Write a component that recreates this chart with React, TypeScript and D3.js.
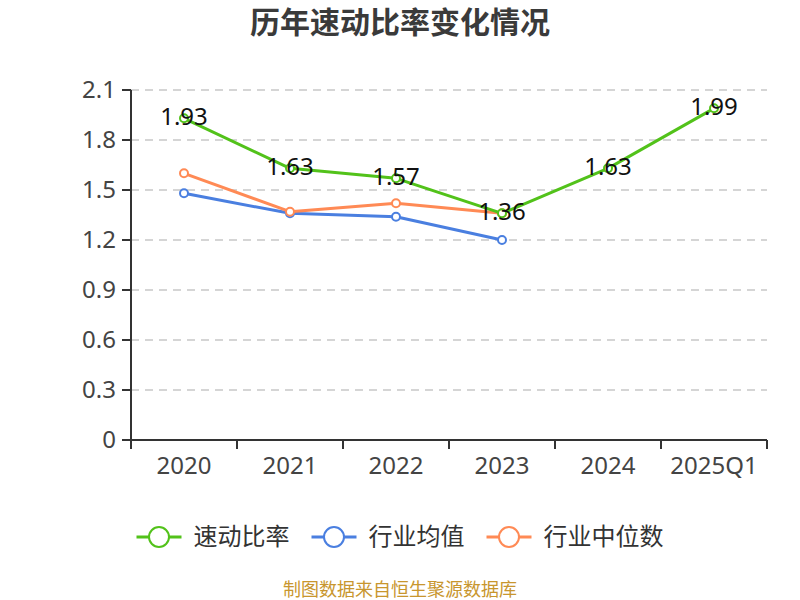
import { select, scaleBand, scaleLinear, line as d3Line } from "d3";
import { useEffect, useRef } from "react";

const categories = ["2020", "2021", "2022", "2023", "2024", "2025Q1"];
const quickRatio = [1.93, 1.63, 1.57, 1.36, 1.63, 1.99];
const industryMean = [1.48, 1.36, 1.34, 1.2, null, null];
const industryMedian = [1.6, 1.37, 1.42, 1.36, null, null];
const yTicks = [0, 0.3, 0.6, 0.9, 1.2, 1.5, 1.8, 2.1];

const seriesNames = ["速动比率", "行业均值", "行业中位数"];
const seriesColors = ["#52c21a", "#4a7fe0", "#ff8a55"];

const FONT = "'Noto Sans', 'Noto Sans CJK SC', sans-serif";

export default function App() {
  const ref = useRef<SVGSVGElement | null>(null);

  useEffect(() => {
    if (!ref.current) return;
    const svg = select(ref.current);
    svg.selectAll("*").remove();

    const left = 131;
    const right = 767;
    const top = 90;
    const bottom = 440;

    const x = scaleBand().domain(categories).range([left, right]).padding(0);
    const y = scaleLinear().domain([0, 2.1]).range([bottom, top]);
    const cx = (c: string) => (x(c) as number) + x.bandwidth() / 2;

    // Title
    svg
      .append("text")
      .attr("x", 400)
      .attr("y", 33)
      .attr("text-anchor", "middle")
      .attr("font-family", FONT)
      .attr("font-size", 30)
      .attr("font-weight", "bold")
      .attr("fill", "#3a3a3a")
      .text("历年速动比率变化情况");

    // Grid lines
    svg
      .append("g")
      .selectAll("line")
      .data(yTicks.filter((t) => t > 0))
      .join("line")
      .attr("x1", left)
      .attr("x2", right)
      .attr("y1", (d) => y(d))
      .attr("y2", (d) => y(d))
      .attr("stroke", "#c8c8c8")
      .attr("stroke-width", 1.5)
      .attr("stroke-dasharray", "8,6");

    // Y axis
    const yAxis = svg.append("g");
    yAxis
      .append("line")
      .attr("x1", left)
      .attr("x2", left)
      .attr("y1", top)
      .attr("y2", bottom)
      .attr("stroke", "#333")
      .attr("stroke-width", 2);
    yAxis
      .selectAll("line.tick")
      .data(yTicks)
      .join("line")
      .attr("class", "tick")
      .attr("x1", left - 9)
      .attr("x2", left)
      .attr("y1", (d) => y(d))
      .attr("y2", (d) => y(d))
      .attr("stroke", "#333")
      .attr("stroke-width", 2);
    yAxis
      .selectAll("text")
      .data(yTicks)
      .join("text")
      .attr("x", left - 15)
      .attr("y", (d) => y(d) + 8)
      .attr("text-anchor", "end")
      .attr("font-family", FONT)
      .attr("font-size", 24)
      .attr("fill", "#444")
      .text((d) => String(d));

    // X axis
    const xAxis = svg.append("g");
    xAxis
      .append("line")
      .attr("x1", left)
      .attr("x2", right)
      .attr("y1", bottom)
      .attr("y2", bottom)
      .attr("stroke", "#333")
      .attr("stroke-width", 2);
    const boundaries = categories.map((c) => x(c) as number).concat([right]);
    xAxis
      .selectAll("line.tick")
      .data(boundaries)
      .join("line")
      .attr("class", "tick")
      .attr("x1", (d) => d)
      .attr("x2", (d) => d)
      .attr("y1", bottom)
      .attr("y2", bottom + 9)
      .attr("stroke", "#333")
      .attr("stroke-width", 2);
    xAxis
      .selectAll("text")
      .data(categories)
      .join("text")
      .attr("x", (d) => cx(d))
      .attr("y", bottom + 34)
      .attr("text-anchor", "middle")
      .attr("font-family", FONT)
      .attr("font-size", 24)
      .attr("fill", "#444")
      .text((d) => d);

    // Lines
    const allSeries = [quickRatio, industryMean, industryMedian];
    const order = [1, 2, 0];
    order.forEach((si) => {
      const vals = allSeries[si];
      const pts = categories
        .map((c, i) => ({ c, v: vals[i] }))
        .filter((p) => p.v != null) as { c: string; v: number }[];
      const line = d3Line<{ c: string; v: number }>()
        .x((p) => cx(p.c))
        .y((p) => y(p.v));
      svg
        .append("path")
        .attr("d", line(pts)!)
        .attr("fill", "none")
        .attr("stroke", seriesColors[si])
        .attr("stroke-width", 3)
        .attr("stroke-linejoin", "round");
      svg
        .append("g")
        .selectAll("circle")
        .data(pts)
        .join("circle")
        .attr("cx", (p) => cx(p.c))
        .attr("cy", (p) => y(p.v))
        .attr("r", 4)
        .attr("fill", "#fff")
        .attr("stroke", seriesColors[si])
        .attr("stroke-width", 2);
    });

    // Data labels for main series
    svg
      .append("g")
      .selectAll("text")
      .data(categories.map((c, i) => ({ c, v: quickRatio[i] })))
      .join("text")
      .attr("x", (p) => cx(p.c))
      .attr("y", (p) => y(p.v) + 7)
      .attr("text-anchor", "middle")
      .attr("font-family", FONT)
      .attr("font-size", 24)
      .attr("fill", "#111")
      .text((p) => p.v.toFixed(2));

    // Legend
    const fontSize = 24;
    const lineW = 45;
    const gapIcon = 12;
    const gapItem = 22;
    const widths = seriesNames.map((n) => lineW + gapIcon + n.length * fontSize);
    const total = widths.reduce((a, b) => a + b, 0) + gapItem * (seriesNames.length - 1);
    let lx = 400 - total / 2;
    const ly = 537;
    seriesNames.forEach((name, i) => {
      const g = svg.append("g");
      g.append("line")
        .attr("x1", lx)
        .attr("x2", lx + lineW)
        .attr("y1", ly)
        .attr("y2", ly)
        .attr("stroke", seriesColors[i])
        .attr("stroke-width", 3);
      g.append("circle")
        .attr("cx", lx + lineW / 2)
        .attr("cy", ly)
        .attr("r", 10)
        .attr("fill", "#fff")
        .attr("stroke", seriesColors[i])
        .attr("stroke-width", 2);
      g.append("text")
        .attr("x", lx + lineW + gapIcon)
        .attr("y", ly + 8)
        .attr("font-family", FONT)
        .attr("font-size", fontSize)
        .attr("fill", "#333")
        .text(name);
      lx += widths[i] + gapItem;
    });

    // Footer
    svg
      .append("text")
      .attr("x", 400)
      .attr("y", 596)
      .attr("text-anchor", "middle")
      .attr("font-family", FONT)
      .attr("font-size", 18)
      .attr("fill", "#c8962e")
      .text("制图数据来自恒生聚源数据库");
  }, []);

  return (
    <svg
      ref={ref}
      width={800}
      height={600}
      style={{ position: "absolute", left: 0, top: 0, background: "#fff" }}
    ></svg>
  );
}
